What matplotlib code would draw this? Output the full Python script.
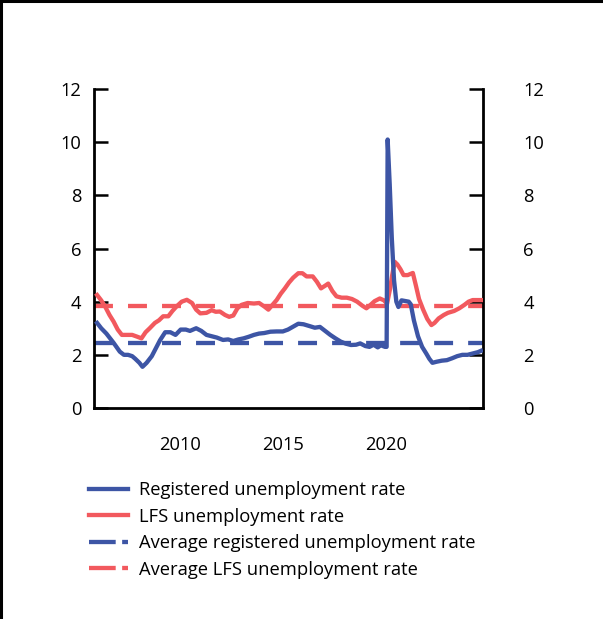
import matplotlib
matplotlib.use("Agg")
import matplotlib.pyplot as plt
from matplotlib.lines import Line2D
import matplotlib.transforms as mtransforms

plt.rcParams['font.family'] = ['Open Sans', 'DejaVu Sans']

# ---- data ----
reg_years = [2006.0, 2006.2, 2006.45, 2006.8, 2007.1, 2007.3, 2007.5, 2007.7, 2007.85, 2008.05,
             2008.2, 2008.4, 2008.65, 2008.85, 2009.05, 2009.3, 2009.55, 2009.8, 2010.05, 2010.3,
             2010.5, 2010.8, 2011.05, 2011.3, 2011.55, 2011.8, 2012.1, 2012.35, 2012.6, 2012.85,
             2013.1, 2013.35, 2013.6, 2013.85, 2014.1, 2014.4, 2014.7, 2015.0, 2015.25, 2015.5,
             2015.75, 2016.0, 2016.3, 2016.55, 2016.8, 2017.05, 2017.3, 2017.55, 2017.8, 2018.05,
             2018.3, 2018.55, 2018.75, 2019.0, 2019.2, 2019.4, 2019.6, 2019.75, 2019.95, 2020.03,
             2020.08, 2020.18, 2020.28, 2020.39, 2020.5, 2020.6, 2020.75, 2021.1, 2021.2, 2021.35,
             2021.55, 2021.75, 2021.95, 2022.1, 2022.25, 2022.45, 2022.7, 2022.95, 2023.2, 2023.45,
             2023.7, 2023.95, 2024.2, 2024.45, 2024.6]
reg_values = [3.2, 3.0, 2.8, 2.45, 2.12, 2.0, 2.0, 1.95, 1.85, 1.7,
              1.55, 1.7, 1.95, 2.25, 2.55, 2.85, 2.85, 2.75, 2.95, 2.95,
              2.9, 3.0, 2.9, 2.75, 2.7, 2.65, 2.56, 2.58, 2.52, 2.58,
              2.62, 2.68, 2.75, 2.8, 2.82, 2.87, 2.88, 2.88, 2.95, 3.06,
              3.17, 3.15, 3.08, 3.02, 3.05, 2.9, 2.75, 2.62, 2.5, 2.42,
              2.37, 2.38, 2.43, 2.33, 2.3, 2.38, 2.28, 2.36, 2.3, 2.3,
              10.1, 8.4, 6.4, 4.8, 4.0, 3.8, 4.05, 4.0, 3.9, 3.3,
              2.7, 2.3, 2.05, 1.85, 1.7, 1.74, 1.78, 1.8, 1.87, 1.95,
              2.0, 2.0, 2.05, 2.1, 2.15]

lfs_years = [2006.0, 2006.2, 2006.4, 2006.6, 2006.8, 2007.0, 2007.2, 2007.45, 2007.7, 2007.95,
             2008.15, 2008.35, 2008.55, 2008.8, 2009.0, 2009.2, 2009.45, 2009.65, 2009.85, 2010.1,
             2010.35, 2010.6, 2010.8, 2011.0, 2011.3, 2011.55, 2011.75, 2011.95, 2012.2, 2012.4,
             2012.6, 2012.8, 2013.0, 2013.3, 2013.6, 2013.85, 2014.1, 2014.3, 2014.5, 2014.7,
             2014.9, 2015.1, 2015.3, 2015.5, 2015.75, 2015.95, 2016.15, 2016.45, 2016.65, 2016.85,
             2017.05, 2017.2, 2017.4, 2017.6, 2017.85, 2018.1, 2018.35, 2018.6, 2018.85, 2019.05,
             2019.25, 2019.45, 2019.7, 2019.9, 2020.05, 2020.2, 2020.3, 2020.42, 2020.55, 2020.7,
             2020.85, 2021.05, 2021.3, 2021.45, 2021.6, 2021.8, 2022.0, 2022.2, 2022.35, 2022.55,
             2022.8, 2023.0, 2023.3, 2023.55, 2023.8, 2024.0, 2024.2, 2024.6]
lfs_values = [4.25, 4.05, 3.8, 3.5, 3.25, 2.95, 2.75, 2.75, 2.75, 2.68,
              2.62, 2.85, 3.0, 3.2, 3.3, 3.45, 3.45, 3.65, 3.82, 4.0,
              4.07, 3.95, 3.7, 3.56, 3.58, 3.68, 3.62, 3.63, 3.5, 3.43,
              3.48, 3.75, 3.88, 3.95, 3.93, 3.95, 3.82, 3.7, 3.88, 4.06,
              4.3, 4.5, 4.72, 4.9, 5.07, 5.07, 4.95, 4.95, 4.75, 4.5,
              4.6, 4.68, 4.4, 4.2, 4.15, 4.15, 4.1, 4.0, 3.85, 3.75,
              3.88, 4.02, 4.12, 4.05, 3.92, 4.5, 5.0, 5.5, 5.4, 5.22,
              5.0, 5.0, 5.08, 4.6, 4.1, 3.7, 3.35, 3.12, 3.2, 3.37,
              3.5, 3.58, 3.65, 3.75, 3.88, 4.0, 4.06, 4.06]

avg_registered = 2.46
avg_lfs = 3.84

y_ticks = [0, 2, 4, 6, 8, 10, 12]
x_ticks = [2010, 2015, 2020]
x_tick_labels = ["2010", "2015", "2020"]

labels = ["Registered unemployment rate", "LFS unemployment rate",
          "Average registered unemployment rate", "Average LFS unemployment rate"]

BLUE = "#3d55a5"
RED = "#f2595e"
FS = 13.2

fig = plt.figure(figsize=(6.03, 6.19), dpi=100)
ax = fig.add_axes([94/603, 1-408/619, (483-94)/603, (408-89)/619])

LW = 3.1
dash = (0, (4.4, 3.5))
ax.axhline(avg_registered, color=BLUE, lw=LW, linestyle=dash, zorder=2)
ax.axhline(avg_lfs, color=RED, lw=LW, linestyle=dash, zorder=2)
ax.plot(lfs_years, lfs_values, color=RED, lw=LW, zorder=3, solid_joinstyle='round')
ax.plot(reg_years, reg_values, color=BLUE, lw=LW, zorder=4, solid_joinstyle='round')

ax.set_xlim(2005.85, 2024.7)
ax.set_ylim(0, 12)
ax.set_yticks(y_ticks)
ax.set_xticks(x_ticks)
ax.set_xticklabels(x_tick_labels)

for s in ["left", "right", "bottom"]:
    ax.spines[s].set_linewidth(2)
    ax.spines[s].set_color("black")
ax.spines["top"].set_visible(False)

ax.tick_params(axis='y', direction='in', length=10, width=1.8, labelsize=FS,
               left=True, right=True, labelleft=True, labelright=True, pad=9)
ax.tick_params(axis='x', length=0, labelsize=FS, pad=20)
offset = mtransforms.ScaledTranslation(28/100, 0, fig.dpi_scale_trans)
for t in ax.yaxis.get_major_ticks():
    t.label2.set_horizontalalignment('left')
    t.label2.set_transform(t.label2.get_transform() + offset)

handles = [
    Line2D([], [], color=BLUE, lw=LW),
    Line2D([], [], color=RED, lw=LW),
    Line2D([], [], color=BLUE, lw=LW, linestyle=(0, (6.2, 1.5))),
    Line2D([], [], color=RED, lw=LW, linestyle=(0, (6.2, 1.5))),
]
fig.legend(handles, labels, loc='upper left', bbox_to_anchor=(89/603, 1-481/619),
           frameon=False, fontsize=FS, handlelength=2.1, handletextpad=0.62,
           labelspacing=0.47, borderaxespad=0, borderpad=0.0)

# figure border (top and left)
fig.add_artist(Line2D([0, 1], [0.998, 0.998], transform=fig.transFigure, color='black', lw=2.2))
fig.add_artist(Line2D([0.002, 0.002], [0, 1], transform=fig.transFigure, color='black', lw=2.2))

fig.savefig("out.png", dpi=100)
